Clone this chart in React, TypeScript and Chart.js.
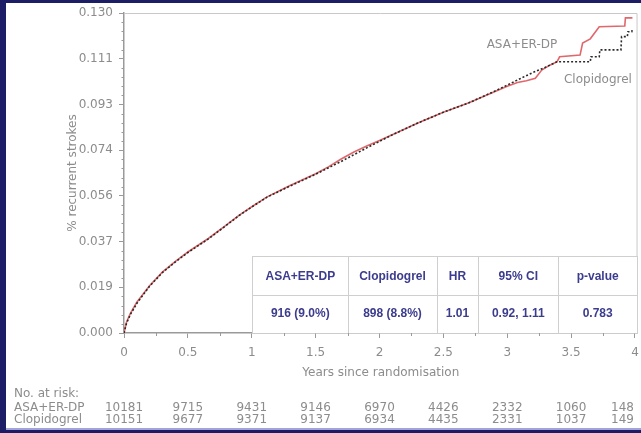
import React, { useEffect, useRef } from "react";
import { Chart, registerables } from "chart.js";

Chart.register(...registerables);

// ---- data ----
const xTickValues = [0, 0.5, 1, 1.5, 2, 2.5, 3, 3.5, 4];
const xTickLabels = ["0", "0.5", "1", "1.5", "2", "2.5", "3", "3.5", "4"];
const yTickLabels = ["0.000", "0.019", "0.037", "0.056", "0.074", "0.093", "0.111", "0.130"];
const yMax = 0.13;
const xMax = 4.02;

const clopTimes = [0, 0.02, 0.05, 0.1, 0.2, 0.3, 0.4, 0.5, 0.66, 0.8, 0.9, 1.0, 1.12, 1.3, 1.5, 1.7, 1.9, 2.1, 2.3, 2.5, 2.7, 2.9, 3.0, 3.1, 3.2, 3.3, 3.39, 3.65, 3.655, 3.72, 3.725, 3.89, 3.895, 3.94, 3.945, 3.975, 3.98];
const clopValues = [0, 0.004, 0.0075, 0.012, 0.019, 0.0245, 0.0288, 0.0327, 0.0382, 0.0437, 0.0477, 0.0512, 0.0552, 0.0597, 0.0645, 0.0697, 0.0752, 0.0805, 0.0853, 0.0897, 0.0935, 0.0982, 0.1007, 0.1033, 0.1058, 0.108, 0.1102, 0.1102, 0.1122, 0.1122, 0.115, 0.115, 0.1204, 0.1204, 0.1224, 0.1224, 0.1238];

const asaTimes = [0, 0.02, 0.05, 0.1, 0.2, 0.3, 0.4, 0.5, 0.66, 0.8, 0.9, 1.0, 1.12, 1.3, 1.5, 1.6, 1.7, 1.8, 1.9, 2.0, 2.1, 2.3, 2.5, 2.7, 2.9, 3.0, 3.08, 3.15, 3.22, 3.27, 3.33, 3.39, 3.41, 3.57, 3.59, 3.65, 3.72, 3.92, 3.925, 3.98];
const asaValues = [0, 0.0045, 0.008, 0.0125, 0.0192, 0.0247, 0.029, 0.0329, 0.0384, 0.0438, 0.0478, 0.0513, 0.0553, 0.0599, 0.0647, 0.0675, 0.0707, 0.0735, 0.076, 0.0782, 0.0805, 0.0853, 0.0897, 0.0935, 0.098, 0.1002, 0.1018, 0.1025, 0.1035, 0.1068, 0.1087, 0.1102, 0.1122, 0.1129, 0.1178, 0.1195, 0.1244, 0.1247, 0.128, 0.128];

const seriesNames = ["ASA+ER-DP", "Clopidogrel"];

const tableHeaders = ["ASA+ER-DP", "Clopidogrel", "HR", "95% CI", "p-value"];
const tableValues = ["916 (9.0%)", "898 (8.8%)", "1.01", "0.92, 1.11", "0.783"];

const riskTitle = "No. at risk:";
const riskAsa = ["10181", "9715", "9431", "9146", "6970", "4426", "2332", "1060", "148"];
const riskClop = ["10151", "9677", "9371", "9137", "6934", "4435", "2331", "1037", "149"];

const xTitle = "Years since randomisation";
const yTitle = "% recurrent strokes";

// ---- styles ----
const GRAY = "#8c8c8c";
const AXIS = "#9a9a9a";
const NAVY_TEXT = "#3c3c8e";
const FONT = '"DejaVu Sans", sans-serif';

const overlayPlugin = {
  id: "overlay",
  afterDraw(chart: any) {
    const { ctx, chartArea: a, scales } = chart;
    const xs = scales.x;
    const ys = scales.y;
    ctx.save();

    // frame (top and right)
    ctx.strokeStyle = "#c8c8c8";
    ctx.lineWidth = 1;
    ctx.beginPath();
    ctx.moveTo(a.left, a.top + 0.5);
    ctx.lineTo(a.right - 0.5, a.top + 0.5);
    ctx.lineTo(a.right - 0.5, a.bottom);
    ctx.stroke();

    // minor ticks
    ctx.strokeStyle = AXIS;
    ctx.lineWidth = 1;
    ctx.beginPath();
    for (let i = 0; i < xTickValues.length - 1; i++) {
      const v = (xTickValues[i] + xTickValues[i + 1]) / 2;
      const px = Math.round(xs.getPixelForValue(v)) + 0.5;
      ctx.moveTo(px, a.bottom);
      ctx.lineTo(px, a.bottom + 3);
    }
    const nY = yTickLabels.length - 1;
    const sub = 5;
    for (let i = 1; i < nY * sub; i++) {
      if (i % sub === 0) continue;
      const py = Math.round(ys.getPixelForValue((i * yMax) / (nY * sub))) + 0.5;
      ctx.moveTo(a.left - 2.5, py);
      ctx.lineTo(a.left, py);
    }
    ctx.stroke();

    // curve labels
    ctx.fillStyle = GRAY;
    ctx.font = `12px ${FONT}`;
    ctx.textAlign = "center";
    ctx.textBaseline = "middle";
    ctx.fillText(seriesNames[0], xs.getPixelForValue(3.115), ys.getPixelForValue(0.117));
    ctx.fillText(seriesNames[1], xs.getPixelForValue(3.71), ys.getPixelForValue(0.1028));

    // results table
    const colEdges = [a.left + 128.3, a.left + 224.3, a.left + 312.7, a.left + 354.3, a.left + 434.3, a.right - 0.5];
    const tTop = a.bottom - 77;
    const tMid = a.bottom - 38;
    const tBot = a.bottom;
    ctx.fillStyle = "#ffffff";
    ctx.fillRect(colEdges[0], tTop, colEdges[5] - colEdges[0], tBot - tTop);
    ctx.strokeStyle = "#cfcfcf";
    ctx.lineWidth = 1;
    ctx.beginPath();
    ctx.moveTo(colEdges[0], tTop + 0.5);
    ctx.lineTo(colEdges[5], tTop + 0.5);
    ctx.moveTo(colEdges[0], tMid + 0.5);
    ctx.lineTo(colEdges[5], tMid + 0.5);
    for (const e of colEdges) {
      const ex = Math.round(e) + 0.5;
      ctx.moveTo(ex, tTop);
      ctx.lineTo(ex, tBot);
    }
    ctx.stroke();
    ctx.fillStyle = NAVY_TEXT;
    ctx.font = 'bold 12px "Liberation Sans", Arial, sans-serif';
    for (let i = 0; i < tableHeaders.length; i++) {
      const cx = (colEdges[i] + colEdges[i + 1]) / 2;
      ctx.fillText(tableHeaders[i], cx, (tTop + tMid) / 2 + 1);
      ctx.fillText(tableValues[i], cx, (tMid + tBot) / 2);
    }

    // number at risk
    ctx.fillStyle = GRAY;
    ctx.font = `12px ${FONT}`;
    ctx.textAlign = "left";
    ctx.fillText(riskTitle, 14, 394);
    ctx.fillText(seriesNames[0], 14, 408);
    ctx.fillText(seriesNames[1], 14, 420);
    const rows = [riskAsa, riskClop];
    const rowY = [408, 420];
    rows.forEach((row, r) => {
      row.forEach((txt, i) => {
        const cx = xs.getPixelForValue(xTickValues[i]);
        const w = ctx.measureText(txt).width;
        let left = cx - w / 2;
        if (left + w > 634) left = 634 - w;
        ctx.fillText(txt, left, rowY[r]);
      });
    });

    ctx.restore();
  },
};

export default function App() {
  const canvasRef = useRef<HTMLCanvasElement | null>(null);

  useEffect(() => {
    const canvas = canvasRef.current;
    if (!canvas) return;
    const chart = new Chart(canvas, {
      type: "line",
      data: {
        datasets: [
          {
            label: seriesNames[1],
            data: clopTimes.map((t, i) => ({ x: t, y: clopValues[i] })),
            borderColor: "#2a2a2a",
            borderWidth: 1.6,
            borderDash: [2, 2],
            pointRadius: 0,
            tension: 0,
            fill: false,
          },
          {
            label: seriesNames[0],
            data: asaTimes.map((t, i) => ({ x: t, y: asaValues[i] })),
            borderColor: "#e0676b",
            borderWidth: 1.6,
            pointRadius: 0,
            tension: 0,
            fill: false,
          },
        ],
      },
      options: {
        animation: false,
        responsive: false,
        maintainAspectRatio: false,
        layout: { padding: { left: 0, top: 13, right: 3.45, bottom: 0 } },
        plugins: { legend: { display: false }, tooltip: { enabled: false }, title: { display: false } },
        scales: {
          x: {
            type: "linear",
            min: 0,
            max: xMax,
            afterBuildTicks: (scale: any) => {
              scale.ticks = xTickValues.map((v) => ({ value: v }));
            },
            afterFit: (scale: any) => {
              scale.height = 100;
              scale.paddingLeft = 0;
              scale.paddingRight = 0;
            },
            ticks: {
              callback: (_v: any, i: number) => xTickLabels[i],
              color: GRAY,
              font: { family: FONT, size: 12 },
              padding: 8,
              maxRotation: 0,
              autoSkip: false,
            },
            grid: { drawOnChartArea: false, drawTicks: true, tickLength: 5, color: AXIS, lineWidth: 1 },
            border: { display: true, color: AXIS, width: 1.5 },
            title: {
              display: true,
              text: xTitle,
              color: GRAY,
              font: { family: FONT, size: 12 },
              padding: { top: 0, bottom: 53 },
            },
          },
          y: {
            type: "linear",
            min: 0,
            max: yMax,
            afterBuildTicks: (scale: any) => {
              const n = yTickLabels.length - 1;
              scale.ticks = yTickLabels.map((_l, i) => ({ value: (i * yMax) / n }));
            },
            afterFit: (scale: any) => {
              scale.width = 124;
              scale.paddingTop = 0;
              scale.paddingBottom = 0;
            },
            ticks: {
              callback: (_v: any, i: number) => yTickLabels[i],
              color: GRAY,
              font: { family: FONT, size: 12 },
              padding: 6,
              autoSkip: false,
            },
            grid: { drawOnChartArea: false, drawTicks: true, tickLength: 5, color: AXIS, lineWidth: 1 },
            border: { display: true, color: AXIS, width: 1.5 },
            title: {
              display: true,
              text: yTitle,
              color: GRAY,
              font: { family: FONT, size: 12 },
              padding: { top: 65.8, bottom: 0 },
            },
          },
        },
      },
      plugins: [overlayPlugin],
    });
    return () => chart.destroy();
  }, []);

  return (
    <div style={{ position: "fixed", left: 0, top: 0, width: 641, height: 433, background: "#1d1d66", overflow: "hidden" }}>
      <div style={{ position: "absolute", left: 6, top: 3, width: 635, height: 425, background: "#ffffff" }} />
      <div style={{ position: "absolute", left: 6, top: 428, width: 635, height: 2, background: "#a3a3dc" }} />
      <canvas ref={canvasRef} width={641} height={433} style={{ position: "absolute", left: 0, top: 0, display: "block" }} />
    </div>
  );
}
